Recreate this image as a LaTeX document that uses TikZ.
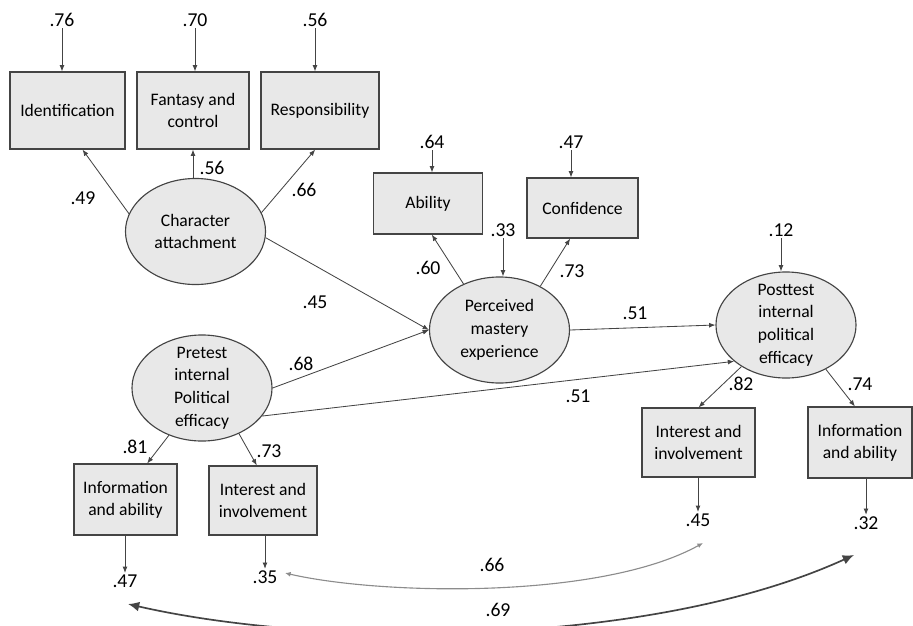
\documentclass[tikz,border=0pt]{standalone}
\usepackage{fontspec}
\setmainfont{Carlito}
\usepackage{xcolor}
\usepackage{tikz}
\usetikzlibrary{shapes.geometric, arrows.meta, calc}

\definecolor{boxgray}{HTML}{E8E8E8}
\definecolor{edgegray}{HTML}{444444}
\definecolor{covgray}{HTML}{8C8C8C}

\begin{document}
\begin{tikzpicture}[
  x=0.025cm, y=-0.025cm,
  box/.style    = {rectangle, draw=edgegray, fill=boxgray, line width=0.8pt,
                   align=center, inner sep=2pt,
                   font=\fontsize{12.5}{15.6}\selectfont},
  latent/.style = {ellipse, draw=edgegray, fill=boxgray, line width=0.8pt,
                   align=center, inner sep=-8pt, minimum width=3.5cm,
                   minimum height=2.65cm, font=\fontsize{12.5}{16.2}\selectfont},
  num/.style    = {inner sep=1pt, font=\fontsize{14}{16}\selectfont},
  arr/.style    = {-{Latex[length=4.5pt,width=3.5pt]}, edgegray, line width=0.6pt},
  cov/.style    = {{Latex[length=4pt,width=3.5pt]}-{Latex[length=4pt,width=3.5pt]},
                   covgray, line width=0.8pt},
  covbig/.style = {{Latex[length=8pt,width=7pt]}-{Latex[length=8pt,width=7pt]},
                   edgegray, line width=1.2pt}
]
\useasboundingbox (0,0) rectangle (913,625);

% indicators
\node[box, minimum width=2.875cm, minimum height=1.925cm] (ident) at (67.5,110.5) {Identification};
\node[box, minimum width=2.8cm,   minimum height=1.925cm] (fant)  at (193,110.5)  {Fantasy and\\control};
\node[box, minimum width=2.95cm,  minimum height=1.925cm] (resp)  at (320,110.5)  {Responsibility};
\node[box, minimum width=2.725cm, minimum height=1.525cm] (abil)  at (428,203.5)  {Ability};
\node[box, minimum width=2.775cm, minimum height=1.5cm]   (conf)  at (582.5,208)  {Confidence};
\node[box, minimum width=2.575cm, minimum height=1.775cm] (info1) at (125.5,499.5) {Information\\and ability};
\node[box, minimum width=2.7cm,   minimum height=1.725cm] (int1)  at (263,500.5)  {Interest and\\involvement};
\node[box, minimum width=2.825cm, minimum height=1.725cm] (int2)  at (698.5,442.5) {Interest and\\involvement};
\node[box, minimum width=2.6cm,   minimum height=1.775cm] (info2) at (860,442.5)  {Information\\and ability};

% latent variables
\node[latent] (char) at (195.5,231.5) {Character\\attachment};
\node[latent] (pme)  at (499.5,330)   {Perceived\\mastery\\experience};
\node[latent] (post) at (786,325)     {Posttest\\internal\\political\\efficacy};
\node[latent] (pre)  at (202,388)     {Pretest\\internal\\Political\\efficacy};

% error terms
\node[num] (e76)  at (62,20)   {.76};
\node[num] (e70)  at (195,20)  {.70};
\node[num] (e56)  at (315,20)  {.56};
\node[num] (e64)  at (432,142) {.64};
\node[num] (e47c) at (571,142) {.47};
\node[num] (e33)  at (503,230) {.33};
\node[num] (e12)  at (781,230) {.12};
\node[num] (e47)  at (125,581) {.47};
\node[num] (e35)  at (265,577) {.35};
\node[num] (e45)  at (698,520) {.45};
\node[num] (e32)  at (866,523) {.32};

% path coefficients
\node[num] (l49)  at (83,198)  {.49};
\node[num] (l56)  at (212,168) {.56};
\node[num] (l66)  at (304,190) {.66};
\node[num] (l60)  at (428,268) {.60};
\node[num] (l73c) at (572,271) {.73};
\node[num] (l45)  at (315,302) {.45};
\node[num] (l68)  at (301,364) {.68};
\node[num] (l51a) at (635,313) {.51};
\node[num] (l51b) at (578,396) {.51};
\node[num] (l82)  at (741,384) {.82};
\node[num] (l74)  at (860,384) {.74};
\node[num] (l81)  at (135,447) {.81};
\node[num] (l73)  at (269,451) {.73};
\node[num] (l66c) at (492,565) {.66};
\node[num] (l69)  at (498,610) {.69};

\draw[arr] (e76) -- (e76 |- ident.north);
\draw[arr] (e70) -- (e70 |- fant.north);
\draw[arr] (e56) -- (e56 |- resp.north);
\draw[arr] (e64) -- (e64 |- abil.north);
\draw[arr] (e47c) -- (e47c |- conf.north);
\draw[arr] (e33) -- (e33 |- pme.north);
\draw[arr] (e12) -- (e12 |- post.north);
\draw[arr] (e47 |- info1.south) -- (e47);
\draw[arr] (e35 |- int1.south) -- (e35);
\draw[arr] (e45 |- int2.south) -- (e45);
\draw[arr] (e32 |- info2.south) -- (e32);

\draw[arr] (char.165) -- (ident.-69);
\draw[arr] (fant.south |- char.north) -- (fant.south);
\draw[arr] (char.16) -- (resp.-97);
\draw[arr] (char.-5) -- (pme.west);
\draw[arr] (pme.128) -- (abil.-83);
\draw[arr] (pme.47) -- (conf.-112);
\draw[arr] (pme.east) -- (post.west);
\draw[arr] (pre.east) -- (pme.west);
\draw[arr] (pre.-25) -- (post.-145);
\draw[arr] (pre.-125) -- (info1.59);
\draw[arr] (pre.-51) -- (int1.100);
\draw[arr] (post.-137) -- (int2.north);
\draw[arr] (post.-48) -- (info2.98);

\draw[cov] ($(e45)+(5,23)$) .. controls (600,600) and (380,595) .. ($(e35)+(20,-4)$);
\draw[covbig] ($(e32)+(-12,32)$) .. controls (650,648) and (320,648) .. ($(e47)+(3,23)$);
\end{tikzpicture}
\end{document}
